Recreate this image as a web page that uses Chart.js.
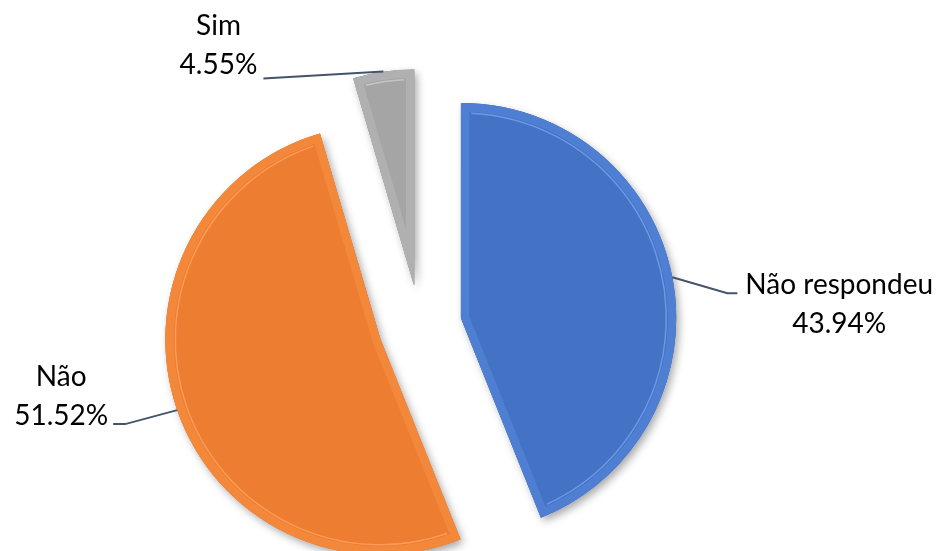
<!DOCTYPE html>
<html>
<head>
<meta charset="utf-8">
<script src="https://cdn.jsdelivr.net/npm/chart.js@4"></script>
<style>
  body { margin: 0; background: #fff; }
  #wrap { width: 949px; height: 551px; position: relative; }
</style>
</head>
<body>
<div id="wrap"><canvas id="pieChart"></canvas></div>
<script>
const categories = ['Não respondeu', 'Não', 'Sim'];
const percents = [43.94, 51.52, 4.55];

const fills = ['#4472C4', '#ED7D31', '#A5A5A5'];
const bevels = ['#4e7fd3', '#f4883a', '#b0b0b0'];
const shines = ['#77a3ec', '#ffa262', '#cdcdcd'];
const explode = 42;

// leader line shape, relative to the point on the rim at mid angle
const labelLayout = [
  { elbow: [55, 16], end: [65, 16], side: 'right', gap: 8, firstBaseline: 1 },
  { elbow: [-52, 14], end: [-64, 14], side: 'left', gap: 5, firstBaseline: -38 },
  { elbow: [-120, 7], end: [-120, 7], side: 'left', gap: 6, firstBaseline: -44 }
];
const lineHeight = 39;

const explodePlugin = {
  id: 'explode',
  afterDatasetUpdate(chart, args) {
    const meta = chart.getDatasetMeta(args.index);
    meta.data.forEach(arc => {
      const mid = (arc.startAngle + arc.endAngle) / 2;
      arc.x += Math.cos(mid) * explode;
      arc.y += Math.sin(mid) * explode;
    });
  }
};

const bevelPlugin = {
  id: 'bevel',
  beforeDatasetsDraw(chart) {
    const ctx = chart.ctx;
    chart.getDatasetMeta(0).data.forEach(arc => {
      ctx.save();
      ctx.shadowColor = 'rgba(0,0,0,0.35)';
      ctx.shadowBlur = 9;
      ctx.shadowOffsetX = 3;
      ctx.shadowOffsetY = 4;
      arc.draw(ctx);
      ctx.restore();
    });
  },
  afterDatasetsDraw(chart) {
    const ctx = chart.ctx;
    chart.getDatasetMeta(0).data.forEach((arc, i) => {
      const r = arc.outerRadius - 10;
      const pad = 10 / r;
      ctx.save();
      ctx.strokeStyle = shines[i];
      ctx.globalAlpha = 0.8;
      ctx.lineWidth = 1.5;
      ctx.beginPath();
      ctx.arc(arc.x, arc.y, r, arc.startAngle + pad, arc.endAngle - pad);
      ctx.stroke();
      ctx.restore();
    });
  }
};

const labelPlugin = {
  id: 'sliceLabels',
  afterDraw(chart) {
    const ctx = chart.ctx;
    chart.getDatasetMeta(0).data.forEach((arc, i) => {
      const lay = labelLayout[i];
      const mid = (arc.startAngle + arc.endAngle) / 2;
      const sx = arc.x + Math.cos(mid) * arc.outerRadius;
      const sy = arc.y + Math.sin(mid) * arc.outerRadius;
      const ex = sx + lay.end[0], ey = sy + lay.end[1];

      ctx.save();
      ctx.strokeStyle = '#44546A';
      ctx.lineWidth = 2;
      ctx.beginPath();
      ctx.moveTo(sx, sy);
      ctx.lineTo(sx + lay.elbow[0], sy + lay.elbow[1]);
      ctx.lineTo(ex, ey);
      ctx.stroke();

      const lines = [categories[i], percents[i].toFixed(2) + '%'];
      ctx.font = '28px Lato';
      ctx.fillStyle = '#000';
      ctx.textAlign = 'center';
      ctx.textBaseline = 'alphabetic';
      const w = Math.max(...lines.map(t => ctx.measureText(t).width));
      const cx = lay.side === 'right' ? ex + lay.gap + w / 2 : ex - lay.gap - w / 2;
      lines.forEach((t, k) => {
        ctx.fillText(t, cx, ey + lay.firstBaseline + k * lineHeight);
      });
      ctx.restore();
    });
  }
};

new Chart(document.getElementById('pieChart'), {
  type: 'pie',
  data: {
    labels: categories,
    datasets: [{
      data: percents,
      backgroundColor: fills,
      borderColor: bevels,
      borderWidth: 8,
      borderAlign: 'inner',
      radius: 215
    }]
  },
  options: {
    responsive: true,
    maintainAspectRatio: false,
    animation: false,
    layout: { padding: { left: 0, right: 109, top: 101, bottom: 0 } },
    plugins: {
      legend: { display: false },
      tooltip: { enabled: false }
    }
  },
  plugins: [explodePlugin, bevelPlugin, labelPlugin]
});
</script>
</body>
</html>
